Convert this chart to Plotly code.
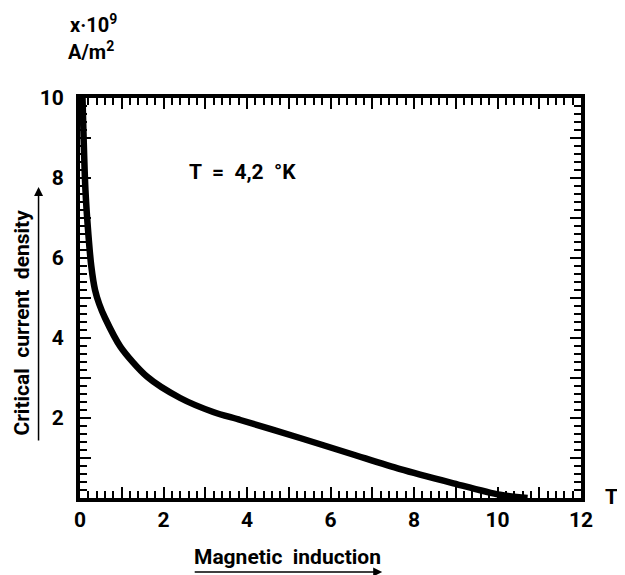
import plotly.graph_objects as go

# Data
b_field = [0.06, 0.13, 0.20, 0.27, 0.36, 0.46, 0.60, 0.97, 1.61, 2.40, 3.19, 3.84, 5.27, 6.50, 7.67, 8.90, 10.06, 10.72]
j_crit = [10.0, 7.7, 6.6, 5.8, 5.2, 4.85, 4.5, 3.78, 3.03, 2.50, 2.15, 1.95, 1.50, 1.10, 0.72, 0.38, 0.08, 0.0]

FONT = "Roboto"
W, H = 617, 567          # page body has an 8px margin
L, T = 71.5, 90          # plot area left/top in figure pixels
PW, PH = 501.5, 400      # plot area size


def px(xp):  # reference page pixel -> paper x
    return (xp - 79.5) / PW


def py(yp):  # reference page pixel -> paper y
    return (498 - yp) / PH


fig = go.Figure()
fig.add_trace(go.Scatter(
    x=b_field, y=j_crit, mode="lines",
    line=dict(color="black", width=6.5, shape="spline", smoothing=0.8),
    showlegend=False, hoverinfo="skip",
))
# helper (empty) trace so the minor-tick overlay axes are drawn
fig.add_trace(go.Scatter(x=[None], y=[None], xaxis="x2", yaxis="y2",
                         showlegend=False, hoverinfo="skip"))

tickfont = dict(family=FONT, size=21, color="black", weight="bold")
axis_common = dict(
    showgrid=False, zeroline=False,
    showline=True, linecolor="black", linewidth=4, mirror="ticks",
    ticks="inside", ticklen=11, tickwidth=2, tickcolor="black",
    tickmode="linear", tick0=0, dtick=1, ticklabelstep=2,
    tickfont=tickfont,
)
minor_common = dict(
    showgrid=False, zeroline=False,
    showline=True, linecolor="black", linewidth=4, mirror="ticks",
    ticks="inside", ticklen=7, tickwidth=1.6, tickcolor="black",
    tickmode="linear", tick0=0, dtick=0.2, showticklabels=False,
)

fig.update_layout(
    xaxis=dict(range=[0, 12], **axis_common),
    yaxis=dict(range=[0, 10], labelalias={"0": " "}, ticklabelstandoff=8, **axis_common),
    xaxis2=dict(range=[0, 12], overlaying="x", anchor="y2", side="bottom", **minor_common),
    yaxis2=dict(range=[0, 10], overlaying="y", anchor="x2", side="left", **minor_common),
)


def label(xp, yp, text, size=21, angle=0):
    return dict(x=px(xp), y=py(yp), xref="paper", yref="paper", text=text,
                showarrow=False, xanchor="center", yanchor="middle", textangle=angle,
                font=dict(family=FONT, size=size, color="black", weight="bold"))


annotations = [
    label(242, 172, "T  =  4,2  °K", size=21),
    label(287, 557, "Magnetic  induction", size=21),
    label(21, 323, "Critical  current  density", size=21, angle=-90),
    label(612, 497, "T", size=21),
    label(93, 24, "x·10<sup>9</sup>", size=20),
    label(91, 51, "A/m<sup>2</sup>", size=20),
    # x-title arrow
    dict(x=px(382), y=py(572), xref="paper", yref="paper", text="", showarrow=True,
         ax=-189, ay=0, arrowhead=2, arrowsize=1.2, arrowwidth=1.5, arrowcolor="black"),
    # y-title arrow
    dict(x=px(38), y=py(187), xref="paper", yref="paper", text="", showarrow=True,
         ax=0, ay=255, arrowhead=2, arrowsize=1.2, arrowwidth=1.5, arrowcolor="black"),
]

fig.update_layout(
    width=W, height=H,
    margin=dict(l=L, r=W - L - PW, t=T, b=H - T - PH, autoexpand=False),
    paper_bgcolor="white", plot_bgcolor="white",
    annotations=annotations,
)

fig.write_html("out.html")
